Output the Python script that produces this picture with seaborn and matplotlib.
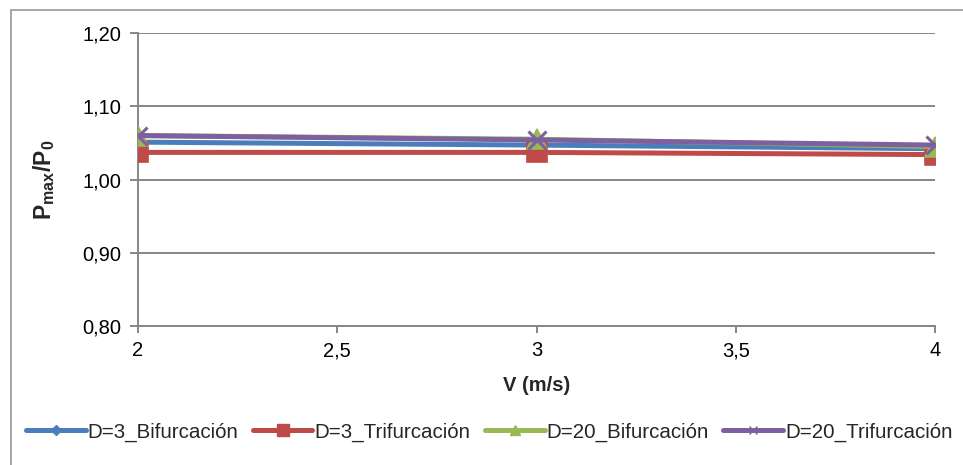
import matplotlib
matplotlib.use("Agg")
import matplotlib.pyplot as plt
from matplotlib.patches import Rectangle
import seaborn as sns
import pandas as pd

# Velocity (m/s) and normalised peak pressure per configuration
velocidad = [2, 3, 4]
d3_bifurcacion = [1.051, 1.047, 1.042]
d3_trifurcacion = [1.037, 1.037, 1.034]
d20_bifurcacion = [1.060, 1.055, 1.045]
d20_trifurcacion = [1.060, 1.054, 1.047]

series_names = ["D=3_Bifurcación", "D=3_Trifurcación",
                "D=20_Bifurcación", "D=20_Trifurcación"]
series_values = [d3_bifurcacion, d3_trifurcacion,
                 d20_bifurcacion, d20_trifurcacion]

x_ticks = [2, 2.5, 3, 3.5, 4]
x_tick_labels = ["2", "2,5", "3", "3,5", "4"]
y_ticks = [0.80, 0.90, 1.00, 1.10, 1.20]
y_tick_labels = ["0,80", "0,90", "1,00", "1,10", "1,20"]

df = pd.DataFrame({
    "V": velocidad * len(series_names),
    "P": [v for vals in series_values for v in vals],
    "Serie": [n for n in series_names for _ in velocidad],
})

sns.set_theme(style="white")
plt.rcParams["font.family"] = ["Liberation Sans", "DejaVu Sans"]
plt.rcParams["mathtext.fontset"] = "custom"
plt.rcParams["mathtext.rm"] = "Liberation Sans"
plt.rcParams["mathtext.bf"] = "Liberation Sans:bold"
plt.rcParams["mathtext.it"] = "Liberation Sans:italic"

palette = {
    "D=3_Bifurcación": "#4A7EBB",
    "D=3_Trifurcación": "#BE4B48",
    "D=20_Bifurcación": "#98B954",
    "D=20_Trifurcación": "#7D60A0",
}
markers = {
    "D=3_Bifurcación": "D",
    "D=3_Trifurcación": "s",
    "D=20_Bifurcación": "^",
    "D=20_Trifurcación": "x",
}
msizes = {
    "D=3_Bifurcación": 9,
    "D=3_Trifurcación": 14,
    "D=20_Bifurcación": 15,
    "D=20_Trifurcación": 13,
}

fig = plt.figure(figsize=(9.63, 4.65), dpi=100)
ax = fig.add_axes([138 / 963, 1 - 326 / 465, (935 - 138) / 963, (326 - 33) / 465])

gray = "#868686"

for name in series_names:
    sns.lineplot(
        data=df[df["Serie"] == name], x="V", y="P", ax=ax,
        color=palette[name], marker=markers[name], markersize=msizes[name],
        markeredgewidth=2.2 if markers[name] == "x" else 1.2,
        markeredgecolor=palette[name], linewidth=3.6, label=name,
        solid_capstyle="round", legend=False, zorder=3,
    )

ax.set_xlim(2, 4)
ax.set_ylim(0.80, 1.20)
ax.set_xticks(x_ticks)
ax.set_xticklabels(x_tick_labels)
ax.set_yticks(y_ticks)
ax.set_yticklabels(y_tick_labels)

ax.yaxis.grid(True, color=gray, linewidth=1.4)
ax.xaxis.grid(False)
ax.set_axisbelow(True)
for side in ("top", "right"):
    ax.spines[side].set_visible(False)
for side in ("left", "bottom"):
    ax.spines[side].set_color(gray)
    ax.spines[side].set_linewidth(1.4)

ax.tick_params(axis="y", which="major", direction="out", length=6, width=1.4,
               color=gray, labelsize=14.5, pad=6, left=True)
ax.tick_params(axis="x", which="major", direction="out", length=5, width=1.4,
               color=gray, labelsize=14.5, pad=6, bottom=True)
for lab in ax.get_xticklabels() + ax.get_yticklabels():
    lab.set_color("black")

ax.set_xlabel("V (m/s)", fontsize=14.5, fontweight="bold", labelpad=11)
ax.set_ylabel(r"$\mathbf{P_{max}/P_{0}}$", fontsize=16.5, labelpad=18)

handles, labels = ax.get_legend_handles_labels()
leg = fig.legend(handles, labels, loc="center", bbox_to_anchor=(0.508, 1 - 432 / 465),
                 ncol=4, frameon=False, fontsize=14.8, handlelength=2.9,
                 handletextpad=0.1, columnspacing=0.7)
legend_sizes = [5, 8, 7, 6]
for h, s in zip(leg.legend_handles, legend_sizes):
    h.set_markersize(s)
    h.set_markeredgewidth(1.0)

# Outer chart border
fig.patches.append(Rectangle((11 / 963, -0.05), 1.2, 1 - 10 / 465 + 0.05,
                             transform=fig.transFigure, fill=False,
                             edgecolor="#a6a6a6", linewidth=1.4))

fig.savefig("out.png", dpi=100)
